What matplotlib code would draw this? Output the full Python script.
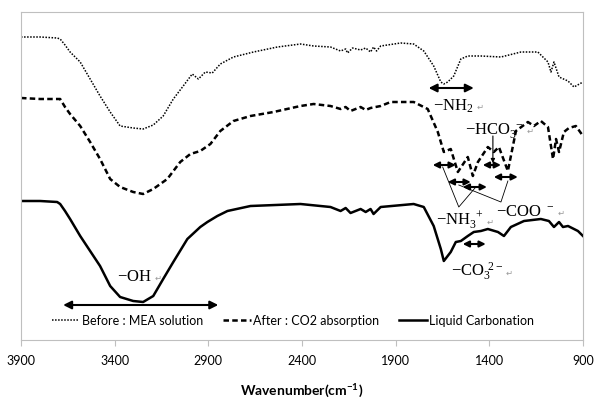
import matplotlib.pyplot as plt

# IR spectra (wavenumber, arbitrary offset intensity)
wn_before = [3900, 3798, 3707, 3691, 3665, 3638, 3584, 3531, 3478, 3424, 3371, 3301, 3248, 3194,
             3141, 3087, 3034, 2986, 2953, 2916, 2879, 2836, 2766, 2659, 2531, 2408, 2338, 2248,
             2194, 2167, 2157, 2130, 2087, 2060, 2034, 2018, 2002, 1980, 1873, 1804, 1750, 1697,
             1659, 1643, 1622, 1590, 1552, 1515, 1445, 1338, 1231, 1141, 1087, 1071, 1055, 1028,
             980, 948, 900]
before = [303, 303, 302, 301, 295, 288, 278, 261, 244, 228, 214, 212, 211, 215,
          224, 241, 254, 266, 261, 268, 267, 276, 283, 288, 293, 296, 294, 293,
          289, 291, 287, 292, 290, 292, 288, 293, 289, 294, 297, 296, 289, 274,
          258, 256, 258, 264, 281, 284, 284, 283, 288, 288, 278, 268, 278, 263,
          259, 253, 258]

wn_after = [3900, 3798, 3707, 3691, 3665, 3638, 3584, 3531, 3478, 3424, 3371, 3301, 3248, 3194,
            3119, 3050, 2996, 2943, 2889, 2836, 2766, 2675, 2552, 2408, 2338, 2248, 2194, 2167,
            2141, 2087, 2060, 2034, 1980, 1927, 1804, 1729, 1675, 1643, 1606, 1568, 1515, 1488,
            1461, 1408, 1376, 1349, 1301, 1258, 1194, 1162, 1125, 1087, 1060, 1044, 1028, 1002,
            975, 938, 900]
after = [242, 241, 241, 241, 233, 226, 214, 198, 181, 161, 153, 148, 146, 151,
         161, 178, 186, 189, 196, 209, 219, 224, 228, 234, 236, 234, 231, 233,
         229, 233, 230, 232, 234, 238, 238, 231, 208, 188, 191, 168, 183, 164,
         178, 193, 188, 193, 169, 209, 218, 214, 219, 213, 181, 201, 188, 208,
         212, 214, 204]

wn_carb = [3900, 3798, 3707, 3691, 3665, 3638, 3584, 3531, 3478, 3424, 3371, 3301, 3248, 3194,
           3141, 3087, 3012, 2943, 2905, 2852, 2798, 2675, 2408, 2248, 2194, 2167, 2141, 2087,
           2060, 2034, 2018, 1980, 1804, 1750, 1697, 1659, 1643, 1606, 1579, 1552, 1515, 1483,
           1445, 1408, 1354, 1322, 1285, 1215, 1125, 1082, 1055, 1028, 1007, 980, 927, 900]
carb = [139, 139, 138, 136, 129, 121, 104, 89, 74, 54, 43, 39, 38, 44,
        61, 78, 101, 113, 118, 124, 129, 134, 136, 133, 129, 132, 127, 131,
        128, 131, 126, 133, 136, 133, 114, 91, 79, 88, 98, 99, 104, 108,
        109, 111, 108, 104, 113, 119, 121, 119, 113, 118, 113, 114, 109, 104]

ticks = [3900, 3400, 2900, 2400, 1900, 1400, 900]

plt.rcParams['font.family'] = 'Lato'
serif = 'Liberation Serif'

fig = plt.figure(figsize=(5.97, 4.02), dpi=100)
ax = fig.add_axes([21 / 597, 61 / 402, 562 / 597, 328 / 402])

ax.plot(wn_before, before, color='black', ls=(0, (1, 1)), lw=1.1, label='Before : MEA solution')
ax.plot(wn_after, after, color='black', ls=(0, (2.2, 1.3)), lw=1.8, label='After : CO2 absorption')
ax.plot(wn_carb, carb, color='black', lw=1.8, label='Liquid Carbonation')

ax.set_xlim(3900, 900)
ax.set_ylim(0, 328)
ax.set_xticks(ticks)
ax.set_yticks([])
for s in ax.spines.values():
    s.set_color('#bfbfbf')
ax.tick_params(axis='x', colors='#bfbfbf', labelcolor='black', length=4, labelsize=9, pad=6)
ax.set_xlabel(r'Wavenumber(cm$^{\mathregular{-1}}$)', fontweight='bold', fontsize=10, labelpad=10)

ax.legend(loc='center left', bbox_to_anchor=(0.055, 0.061), ncol=3, frameon=False, fontsize=9,
          handlelength=2.2, handletextpad=0.2, columnspacing=1.6, borderaxespad=0, borderpad=0)


def darrow(x1, x2, y, ms=12):
    ax.annotate('', xy=(x1, y), xytext=(x2, y),
                arrowprops=dict(arrowstyle='<|-|>', color='black', lw=1.5,
                                mutation_scale=ms, shrinkA=0, shrinkB=0))


def label(x, y, s):
    t = ax.text(x, y, s, family=serif, fontsize=12, va='center', ha='left')
    # grey paragraph mark that follows each label in the original
    ax.annotate('\u21b5', xy=(1, 0.45), xycoords=t, xytext=(2, 0), textcoords='offset points',
                fontsize=6, color='#999999', va='center', ha='left', family='DejaVu Sans')


# -OH
darrow(3675, 2847, 35)
label(3390, 64, r'$\mathregular{-OH}$')

# -NH2
darrow(1724, 1483, 252)
label(1702, 235, r'$\mathregular{-NH_2}$')

# -HCO3-
label(1531, 211, r'$\mathregular{-HCO_3^{\ -}}$')
ax.annotate('', xy=(1381, 177), xytext=(1381, 204),
            arrowprops=dict(arrowstyle='-|>', color='black', lw=0.8, mutation_scale=6,
                            shrinkA=0, shrinkB=0))

# small arrows on dashed peaks
darrow(1702, 1579, 175, ms=9)
darrow(1622, 1499, 158, ms=9)
darrow(1542, 1413, 153, ms=9)
darrow(1435, 1338, 175, ms=9)
darrow(1376, 1248, 163, ms=9)

# -NH3+
ax.plot([1649, 1563, 1472], [173, 133, 153], color='black', lw=0.6)
label(1686, 120, r'$\mathregular{-NH_3^{\ +}}$')

# -COO-
ax.plot([1563, 1338, 1301], [155, 138, 159], color='black', lw=0.6)
label(1365, 129, r'$\mathregular{-COO^{\ -}}$')

# -CO3 2-
darrow(1542, 1419, 96, ms=9)
label(1606, 69, r'$\mathregular{-CO_3^{\ 2-}}$')

fig.savefig('out.png', dpi=100)
